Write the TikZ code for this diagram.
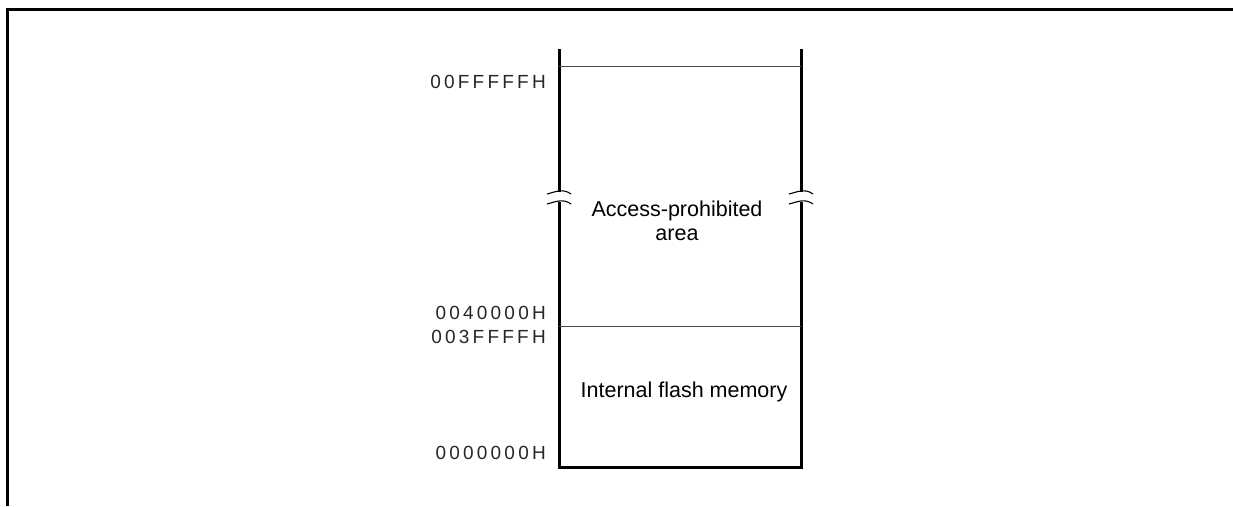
\documentclass[tikz,border=0pt]{standalone}
\usepackage{fontspec}
\setmainfont{Liberation Sans}
\usetikzlibrary{positioning}

\begin{document}
\begin{tikzpicture}[x=1pt,y=-1pt,
  addr/.style={anchor=east,inner sep=0pt,text=black!85,
               font=\fontsize{19}{19}\selectfont\addfontfeature{LetterSpace=17}},
  area/.style={align=center,inner sep=0pt,font=\fontsize{21.5}{24}\selectfont},
  wall/.style={line width=3pt},
  split/.style={line width=1pt,black!70},
  brk/.style={line width=1.1pt}]
  \useasboundingbox (0,0) rectangle (1233,506);
  % Frame
  \draw[line width=3pt] (7,506) -- (7,9) -- (1233,9);
  % Column corners
  \coordinate (tl) at (559,49);
  \coordinate (tr) at (801,49);
  \coordinate (bl) at (559,467);
  \coordinate (br) at (801,467);
  \coordinate (gl1) at (559,192);
  \coordinate (gl2) at (559,202);
  \coordinate (gr1) at (801,192);
  \coordinate (gr2) at (801,202);
  \draw[wall] (tl) -- (gl1);
  \draw[wall] (gl2) -- (bl) -- (br) -- (gr2);
  \draw[wall] (gr1) -- (tr);
  % Break marks
  \foreach \wx in {559,801}
    \foreach \wy in {192,202}
      \draw[brk] (\wx-12,\wy+2) .. controls (\wx-4,\wy) and (\wx+4,\wy-4) .. (\wx+12,\wy+2);
  % Boundaries
  \draw[split] (559,66) -- (801,66);
  \draw[split] (559,326) -- (801,326);
  % Addresses
  \node[addr] (aTop) at (546,82) {00FFFFFH};
  \node[addr] (aLow) at (546,313) {0040000H};
  \node[addr] (aHigh) at (546,337) {003FFFFH};
  \node[addr] (aZero) at (546,453) {0000000H};
  % Areas
  \node[area] (prohib) at (677,221) {Access-prohibited\\area};
  \node[area] (flash) at (684,392) {Internal flash memory};
\end{tikzpicture}
\end{document}
